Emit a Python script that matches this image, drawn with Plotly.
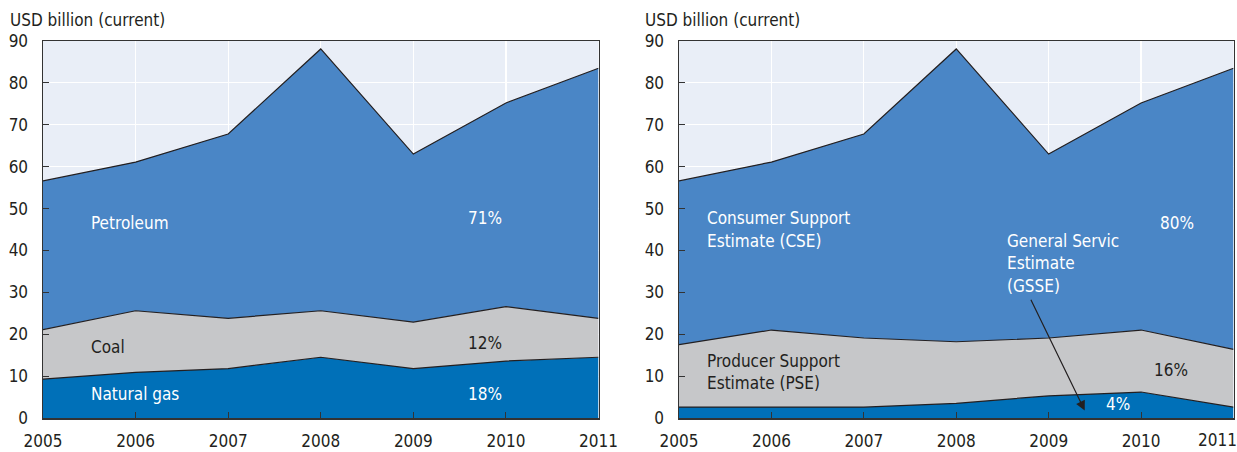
import plotly.graph_objects as go

years = [2005, 2006, 2007, 2008, 2009, 2010, 2011]
year_labels = ["2005", "2006", "2007", "2008", "2009", "2010", "2011"]

# Left panel: by fuel (USD billion)
natural_gas = [9.3, 10.9, 11.8, 14.5, 11.8, 13.6, 14.5]
coal = [11.8, 14.7, 12.0, 11.1, 11.1, 13.0, 9.3]
petroleum = [35.5, 35.5, 44.0, 62.5, 40.1, 48.6, 59.7]

# Right panel: by support indicator (USD billion)
gsse = [2.6, 2.6, 2.6, 3.5, 5.3, 6.2, 2.6]
pse = [14.9, 18.4, 16.5, 14.7, 13.8, 14.8, 13.8]
cse = [39.1, 40.1, 48.7, 69.9, 43.9, 54.2, 67.1]

y_ticks = [0, 10, 20, 30, 40, 50, 60, 70, 80, 90]
unit_label = "USD billion (current)"

C_DARK = "#0070B8"
C_MID = "#4A86C6"
C_GREY = "#C6C7C9"
C_BG = "#E9EEF7"
C_LINE = "#231F20"
FONT = "Liberation Sans Narrow, Arial Narrow, DejaVu Sans Condensed, sans-serif"

W, H = 1237, 452
fig = go.Figure()

def add_stack(xa, ya, series, group):
    for vals, col, name in series:
        fig.add_trace(go.Scatter(
            x=years, y=vals, xaxis=xa, yaxis=ya, stackgroup=group,
            mode="lines", line=dict(color=C_LINE, width=1.2),
            fillcolor=col, name=name, showlegend=False, hoverinfo="skip"))

add_stack("x", "y", [(natural_gas, C_DARK, "Natural gas"), (coal, C_GREY, "Coal"),
                     (petroleum, C_MID, "Petroleum")], "a")
add_stack("x2", "y2", [(gsse, C_DARK, "GSSE"), (pse, C_GREY, "PSE"),
                       (cse, C_MID, "CSE")], "b")

ydom = [(H - 418) / H, (H - 41) / H]
xdom1 = [43 / W, 598.5 / W]
xdom2 = [679 / W, 1233.5 / W]

axis_common = dict(showline=True, linecolor="#333333", linewidth=1.5, mirror=True,
                   showgrid=True, gridcolor="white", gridwidth=1.2,
                   ticks="inside", ticklen=6, tickcolor="#333333",
                   tickfont=dict(family=FONT, size=17, color=C_LINE),
                   automargin=False, zeroline=False, fixedrange=True,
                   ticklabeloverflow="allow")

right_labels = year_labels[:-1] + [""]
for i, xd in enumerate([xdom1, xdom2]):
    s = "" if i == 0 else "2"
    fig.update_layout(**{
        f"xaxis{s}": dict(axis_common, domain=xd, range=[2005, 2011], tickvals=years,
                          ticktext=year_labels if i == 0 else right_labels,
                          anchor=f"y{s}", ticklabelstandoff=7),
        f"yaxis{s}": dict(axis_common, domain=ydom, range=[0, 90], tickvals=y_ticks,
                          anchor=f"x{s}", ticklabelstandoff=10),
    })

ann = []
def txt(x, y, text, color, xanchor="left", xref="x", yref="y"):
    ann.append(dict(x=x, y=y, xref=xref, yref=yref, text=text, showarrow=False,
                    xanchor=xanchor, yanchor="middle", align="left",
                    font=dict(family=FONT, size=17, color=color)))

def px(xp, yp):
    return dict(x=xp / W, y=(H - yp) / H)

for xp, yp in [(8, 20), (643, 20)]:
    p = px(xp, yp)
    ann.append(dict(x=p["x"], y=p["y"], xref="paper", yref="paper", text=unit_label,
                    showarrow=False, xanchor="left", yanchor="middle",
                    font=dict(family=FONT, size=17, color=C_LINE)))

# last year label of the right panel, pulled in from the page edge
p = px(1237, 440)
ann.append(dict(x=p["x"], y=p["y"], xref="paper", yref="paper", text=year_labels[-1],
                showarrow=False, xanchor="right", yanchor="middle", xshift=2,
                font=dict(family=FONT, size=17, color=C_LINE)))

# left panel labels
txt(2005.5, 46.5, "Petroleum", "white")
txt(2005.5, 17.0, "Coal", C_LINE)
txt(2005.5, 5.8, "Natural gas", "white")
txt(2009.77, 47.7, "71%", "white", "center")
txt(2009.77, 18.0, "12%", C_LINE, "center")
txt(2009.77, 5.8, "18%", "white", "center")

# right panel labels
txt(2005.28, 47.7, "Consumer Support", "white", xref="x2", yref="y2")
txt(2005.28, 42.2, "Estimate (CSE)", "white", xref="x2", yref="y2")
txt(2005.28, 13.6, "Producer Support", C_LINE, xref="x2", yref="y2")
txt(2005.28, 8.4, "Estimate (PSE)", C_LINE, xref="x2", yref="y2")
txt(2008.53, 42.2, "General Servic", "white", xref="x2", yref="y2")
txt(2008.53, 36.9, "Estimate", "white", xref="x2", yref="y2")
txt(2008.53, 31.5, "(GSSE)", "white", xref="x2", yref="y2")
txt(2010.39, 46.5, "80%", "white", "center", xref="x2", yref="y2")
txt(2010.32, 11.4, "16%", C_LINE, "center", xref="x2", yref="y2")
txt(2009.75, 3.3, "4%", "white", "center", xref="x2", yref="y2")

ann.append(dict(x=2009.39, y=1.8, ax=2008.8, ay=28.6, xref="x2", yref="y2",
                axref="x2", ayref="y2", text="", showarrow=True, arrowhead=2,
                arrowsize=1.6, arrowwidth=1.2, arrowcolor=C_LINE))

fig.update_layout(width=W, height=H, margin=dict(l=0, r=0, t=0, b=0),
                  paper_bgcolor="white", plot_bgcolor=C_BG, annotations=ann,
                  showlegend=False)

fig.write_html("out.html", config={"displayModeBar": False, "staticPlot": True},
               post_script="document.body.style.margin='0';document.body.style.overflow='hidden';")
